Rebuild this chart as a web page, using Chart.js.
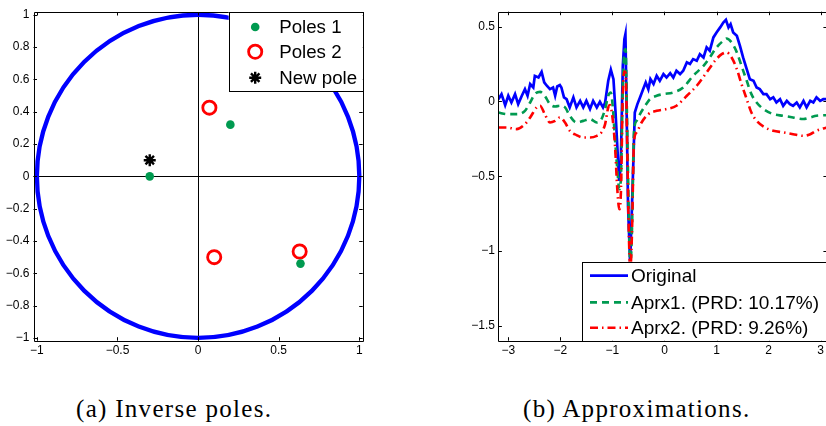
<!DOCTYPE html>
<html>
<head>
<meta charset="utf-8">
<script src="https://cdn.jsdelivr.net/npm/chart.js@4.4.1/dist/chart.umd.min.js"></script>
<style>
  html, body { margin: 0; padding: 0; background: #fff; overflow: hidden; width: 826px; height: 426px; }
  .panel { position: absolute; top: 0; }
  #panelA { left: 0; }
  #panelB { left: 440px; }
  .caption { position: absolute; top: 395px; line-height: 28px; font-family: "Liberation Serif", "Times New Roman", serif; font-size: 25px; letter-spacing: 1.3px; color: #000; white-space: nowrap; }
</style>
</head>
<body>
<div class="panel" id="panelA"><canvas id="poles" width="400" height="362"></canvas></div>
<div class="panel" id="panelB"><canvas id="approx" width="420" height="362"></canvas></div>
<div class="caption" style="left:76px">(a) Inverse poles.</div>
<div class="caption" style="left:523px">(b) Approximations.</div>
<script>
// ---- (a) pole locations in the complex plane ----
const POLES1_RE = [-0.3, 0.2, 0.635];
const POLES1_IM = [0.0, 0.32, -0.54];
const POLES2_RE = [0.07, 0.1, 0.63];
const POLES2_IM = [0.425, -0.5, -0.465];
const NEWPOLE_RE = [-0.3];
const NEWPOLE_IM = [0.1];
const UNIT_RADIUS = 1;
const POLE_XTICKS = [-1, -0.5, 0, 0.5, 1];
const POLE_YTICKS = [-1, -0.8, -0.6, -0.4, -0.2, 0, 0.2, 0.4, 0.6, 0.8, 1];

// ---- (b) signal and its two approximations ----
const W_ORIG = [-3.19,-3.13,-3.06,-3.00,-2.94,-2.87,-2.81,-2.74,-2.68,-2.63,-2.58,-2.52,-2.49,-2.42,-2.36,-2.31,-2.26,-2.20,-2.14,-2.10,
  -2.06,-2.01,-1.98,-1.93,-1.88,-1.82,-1.75,-1.69,-1.62,-1.56,-1.50,-1.43,-1.37,-1.30,-1.24,-1.18,-1.14,-1.08,-1.03,-0.98,
  -0.94,-0.90,-0.87,-0.84,-0.80,-0.77,-0.75,-0.73,-0.70,-0.66,-0.63,-0.60,-0.57,-0.52,-0.47,-0.41,-0.36,-0.31,-0.27,-0.21,
  -0.15,-0.09,-0.02,0.04,0.11,0.17,0.23,0.30,0.36,0.43,0.49,0.55,0.62,0.68,0.75,0.81,0.87,0.94,1.00,1.07,
  1.13,1.18,1.23,1.27,1.32,1.39,1.45,1.51,1.58,1.64,1.71,1.77,1.83,1.90,1.96,2.03,2.09,2.15,2.22,2.28,
  2.35,2.41,2.47,2.54,2.60,2.67,2.73,2.80,2.86,2.92,2.99,3.05,3.12];
const ORIGINAL = [0.015,0.049,-0.025,0.038,-0.007,0.049,-0.018,0.038,0.082,0.038,0.116,0.093,0.171,0.160,0.198,0.127,0.105,0.082,0.093,0.038,
  0.100,0.109,0.093,0.027,0.015,-0.040,0.027,-0.040,0.004,-0.040,0.004,-0.051,0.004,-0.040,-0.002,-0.040,-0.007,0.138,0.212,0.149,
  -0.074,-0.341,-0.531,-0.430,0.238,0.417,0.45,0.015,-0.698,-1.08,-0.765,-0.430,-0.074,-0.018,0.027,0.082,0.127,0.082,0.149,0.116,
  0.171,0.138,0.183,0.160,0.189,0.160,0.205,0.183,0.205,0.261,0.250,0.283,0.272,0.316,0.294,0.361,0.339,0.428,0.461,0.495,
  0.528,0.546,0.495,0.517,0.461,0.439,0.372,0.294,0.216,0.149,0.138,0.093,0.082,0.049,0.049,0.015,0.027,-0.007,0.015,-0.029,
  0.004,-0.018,-0.029,-0.007,-0.040,0.004,-0.040,0.004,-0.007,0.027,0.004,0.015,0.015];
const W_APRX1 = [-3.19,-3.03,-2.84,-2.68,-2.58,-2.49,-2.39,-2.30,-2.20,-2.10,-2.01,-1.91,-1.82,-1.69,-1.56,-1.43,-1.30,-1.21,-1.14,-1.08,
  -1.03,-0.995,-0.95,-0.906,-0.867,-0.835,-0.803,-0.771,-0.746,-0.72,-0.688,-0.656,-0.624,-0.586,-0.535,-0.47,-0.37,-0.28,-0.15,-0.02,
  0.17,0.36,0.55,0.75,0.87,1.00,1.13,1.19,1.29,1.39,1.48,1.58,1.67,1.77,1.90,2.09,2.28,2.47,2.67,2.80,2.92,3.12];
const APRX1 = [-0.074,-0.085,-0.085,-0.063,-0.007,0.049,0.064,0.038,-0.018,-0.034,-0.029,-0.040,-0.096,-0.141,-0.130,-0.118,-0.141,-0.118,-0.051,0.038,
  0.060,-0.029,-0.252,-0.453,-0.587,-0.498,0.060,0.328,0.350,-0.096,-0.698,-1.10,-0.854,-0.208,-0.130,-0.085,-0.029,0.015,0.038,0.049,
  0.060,0.093,0.171,0.238,0.294,0.361,0.406,0.421,0.394,0.328,0.238,0.138,0.049,-0.007,-0.051,-0.085,-0.096,-0.107,-0.118,-0.107,-0.096,-0.092];
const W_APRX2 = [-3.19,-3.03,-2.84,-2.68,-2.58,-2.455,-2.39,-2.30,-2.20,-2.10,-2.01,-1.91,-1.82,-1.69,-1.56,-1.43,-1.30,-1.21,-1.14,-1.08,
  -1.047,-0.995,-0.95,-0.906,-0.867,-0.835,-0.803,-0.771,-0.746,-0.72,-0.688,-0.656,-0.624,-0.586,-0.535,-0.44,-0.31,-0.15,0.04,0.23,
  0.43,0.62,0.81,0.97,1.10,1.19,1.29,1.39,1.48,1.58,1.67,1.77,1.93,2.09,2.28,2.47,2.67,2.80,2.92,3.12];
const APRX2 = [-0.174,-0.174,-0.185,-0.152,-0.107,-0.040,-0.029,-0.085,-0.141,-0.130,-0.107,-0.141,-0.196,-0.225,-0.241,-0.241,-0.230,-0.207,-0.152,-0.040,
  -0.025,-0.118,-0.297,-0.587,-0.721,-0.587,0.015,0.200,0.190,-0.207,-0.832,-1.12,-0.877,-0.274,-0.207,-0.141,-0.085,-0.063,-0.051,-0.029,
  0.038,0.105,0.194,0.272,0.316,0.328,0.294,0.216,0.116,0.015,-0.074,-0.130,-0.174,-0.196,-0.207,-0.219,-0.230,-0.219,-0.196,-0.174];
const APPROX_XTICKS = [-3, -2, -1, 0, 1, 2, 3];
const APPROX_YTICKS = [-1.5, -1, -0.5, 0, 0.5];
const APPROX_LABELS = ['Original', 'Aprx1. (PRD: 10.17%)', 'Aprx2. (PRD: 9.26%)'];

const BLUE = '#0000ff', GREEN = '#009a50', RED = '#ff0000', BLACK = '#000000';
const TICK_FONT = { family: '"Liberation Sans", Arial, sans-serif', size: 12 };

const zip = (xs, ys) => xs.map((x, i) => ({ x, y: ys[i] }));
const fmt = v => (v < 0 ? '\u2212' + String(-v) : String(v));

// box around the axes with inward ticks on every side
const boxFrame = {
  id: 'boxFrame',
  afterDatasetsDraw(chart, args, opts) {
    const { ctx, chartArea: a, scales } = chart;
    const L = opts.tickLen || 3.5;
    const r = v => Math.round(v) + 0.5;
    ctx.save();
    ctx.strokeStyle = BLACK;
    ctx.lineWidth = 1;
    ctx.beginPath();
    ctx.rect(r(a.left), r(a.top), r(a.right) - r(a.left), r(a.bottom) - r(a.top));
    scales.x.ticks.forEach(t => {
      const px = r(scales.x.getPixelForValue(t.value));
      ctx.moveTo(px, a.bottom); ctx.lineTo(px, a.bottom - L);
      ctx.moveTo(px, a.top); ctx.lineTo(px, a.top + L);
    });
    scales.y.ticks.forEach(t => {
      const py = r(scales.y.getPixelForValue(t.value));
      ctx.moveTo(a.left, py); ctx.lineTo(a.left + L, py);
      ctx.moveTo(a.right, py); ctx.lineTo(a.right - L, py);
    });
    ctx.stroke();
    ctx.restore();
  }
};

// zero axes and the unit circle behind the pole markers
const unitCircle = {
  id: 'unitCircle',
  beforeDatasetsDraw(chart) {
    const { ctx, chartArea: a, scales: { x, y } } = chart;
    const cx = x.getPixelForValue(0), cy = y.getPixelForValue(0);
    ctx.save();
    ctx.strokeStyle = BLACK;
    ctx.lineWidth = 1;
    ctx.beginPath();
    ctx.moveTo(Math.round(cx) + 0.5, a.top); ctx.lineTo(Math.round(cx) + 0.5, a.bottom);
    ctx.moveTo(a.left, Math.round(cy) + 0.5); ctx.lineTo(a.right, Math.round(cy) + 0.5);
    ctx.stroke();
    const rx = x.getPixelForValue(UNIT_RADIUS) - cx;
    const ry = cy - y.getPixelForValue(UNIT_RADIUS);
    ctx.strokeStyle = BLUE;
    ctx.lineWidth = 4.3;
    ctx.beginPath();
    ctx.ellipse(cx, cy, rx, ry, 0, 0, Math.PI * 2);
    ctx.stroke();
    ctx.restore();
  }
};

function drawMarker(ctx, ds, x, y) {
  ctx.save();
  if (ds.pointStyle === 'star') {
    ctx.strokeStyle = ds.borderColor;
    ctx.lineWidth = ds.borderWidth;
    const r = ds.pointRadius;
    ctx.beginPath();
    for (let k = 0; k < 4; k++) {
      const ang = k * Math.PI / 4;
      ctx.moveTo(x - r * Math.cos(ang), y - r * Math.sin(ang));
      ctx.lineTo(x + r * Math.cos(ang), y + r * Math.sin(ang));
    }
    ctx.stroke();
  } else {
    ctx.beginPath();
    ctx.arc(x, y, ds.pointRadius, 0, Math.PI * 2);
    ctx.fillStyle = ds.backgroundColor;
    ctx.fill();
    if (ds.borderWidth) { ctx.strokeStyle = ds.borderColor; ctx.lineWidth = ds.borderWidth; ctx.stroke(); }
  }
  ctx.restore();
}

// framed legend drawn inside the plot area
const boxLegend = {
  id: 'boxLegend',
  afterDraw(chart, args, o) {
    const { ctx, chartArea: a } = chart;
    const w = o.width, h = o.height;
    const left = o.anchor === 'topRight' ? a.right - w : a.left + o.offsetX;
    const top = o.anchor === 'topRight' ? a.top : a.bottom - h;
    ctx.save();
    ctx.fillStyle = '#fff';
    ctx.fillRect(left, top, w, h);
    ctx.strokeStyle = BLACK;
    ctx.lineWidth = 1;
    ctx.strokeRect(Math.round(left) + 0.5, Math.round(top) + 0.5, Math.round(w), Math.round(h));
    ctx.font = o.fontSize + 'px "Liberation Sans", Arial, sans-serif';
    ctx.fillStyle = BLACK;
    ctx.textBaseline = 'middle';
    chart.data.datasets.forEach((ds, i) => {
      const yy = top + o.rows[i];
      if (o.kind === 'marker') {
        drawMarker(ctx, ds, left + o.markX, yy);
      } else {
        ctx.save();
        ctx.strokeStyle = ds.borderColor;
        ctx.lineWidth = ds.borderWidth;
        ctx.setLineDash(ds.borderDash || []);
        ctx.beginPath();
        ctx.moveTo(left + o.lineX0, yy); ctx.lineTo(left + o.lineX1, yy);
        ctx.stroke();
        ctx.restore();
      }
      ctx.fillStyle = BLACK;
      ctx.fillText(ds.label, left + o.textX, yy + 1);
    });
    ctx.restore();
  }
};

function fixedTicks(list) {
  return scale => { scale.ticks = list.map(v => ({ value: v })); };
}

new Chart(document.getElementById('poles'), {
  type: 'scatter',
  data: {
    datasets: [
      { label: 'Poles 1', data: zip(POLES1_RE, POLES1_IM), pointStyle: 'circle', pointRadius: 4.3,
        backgroundColor: GREEN, borderColor: GREEN, borderWidth: 0 },
      { label: 'Poles 2', data: zip(POLES2_RE, POLES2_IM), pointStyle: 'circle', pointRadius: 6.6,
        backgroundColor: 'rgba(0,0,0,0)', borderColor: RED, borderWidth: 2.8 },
      { label: 'New pole', data: zip(NEWPOLE_RE, NEWPOLE_IM), pointStyle: 'star', pointRadius: 6,
        backgroundColor: BLACK, borderColor: BLACK, borderWidth: 2.4 }
    ]
  },
  options: {
    responsive: false, animation: false, devicePixelRatio: 1,
    layout: { padding: { left: 0, top: 12, right: 37.3, bottom: 0 } },
    plugins: {
      legend: { display: false }, tooltip: { enabled: false },
      boxFrame: { tickLen: 3.5 },
      boxLegend: { anchor: 'topRight', kind: 'marker', width: 134, height: 79, markX: 26.5, textX: 50.5,
        rows: [15, 39.7, 65.7], fontSize: 18.7 }
    },
    scales: {
      x: { type: 'linear', min: -1.021, max: 1.021,
        afterBuildTicks: fixedTicks(POLE_XTICKS), afterFit: s => { s.height = 21.3; },
        grid: { display: false, drawTicks: false }, border: { display: false },
        ticks: { font: TICK_FONT, color: BLACK, padding: 3, maxRotation: 0, callback: v => fmt(v) } },
      y: { type: 'linear', min: -1.017, max: 1.017,
        afterBuildTicks: fixedTicks(POLE_YTICKS), afterFit: s => { s.width = 33.5; },
        grid: { display: false, drawTicks: false }, border: { display: false },
        ticks: { font: TICK_FONT, color: BLACK, padding: 4, callback: v => fmt(Math.round(v * 10) / 10) } }
    }
  },
  plugins: [unitCircle, boxFrame, boxLegend]
});

new Chart(document.getElementById('approx'), {
  type: 'line',
  data: {
    datasets: [
      { label: APPROX_LABELS[0], data: zip(W_ORIG, ORIGINAL), borderColor: BLUE, borderWidth: 2.7,
        pointRadius: 0, tension: 0, order: 3 },
      { label: APPROX_LABELS[1], data: zip(W_APRX1, APRX1), borderColor: GREEN, borderWidth: 2.6,
        borderDash: [7, 5], pointRadius: 0, cubicInterpolationMode: 'monotone', order: 2 },
      { label: APPROX_LABELS[2], data: zip(W_APRX2, APRX2), borderColor: RED, borderWidth: 2.6,
        borderDash: [8, 4, 1.5, 4], pointRadius: 0, cubicInterpolationMode: 'monotone', order: 1 }
    ]
  },
  options: {
    responsive: false, animation: false, devicePixelRatio: 1,
    layout: { padding: { left: 0, top: 11.7, right: 33.1, bottom: 0 } },
    plugins: {
      legend: { display: false }, tooltip: { enabled: false },
      boxFrame: { tickLen: 3.5 },
      boxLegend: { anchor: 'bottomLeft', kind: 'line', offsetX: 83.6, width: 260, height: 79,
        lineX0: 8, lineX1: 46, textX: 49, rows: [14, 40.7, 66], fontSize: 19 }
    },
    scales: {
      x: { type: 'linear', min: -3.19, max: 3.12,
        afterBuildTicks: fixedTicks(APPROX_XTICKS), afterFit: s => { s.height = 21.3; },
        grid: { display: false, drawTicks: false }, border: { display: false },
        ticks: { font: TICK_FONT, color: BLACK, padding: 3, maxRotation: 0, callback: v => fmt(v) } },
      y: { type: 'linear', min: -1.6, max: 0.6,
        afterBuildTicks: fixedTicks(APPROX_YTICKS), afterFit: s => { s.width = 58.4; },
        grid: { display: false, drawTicks: false }, border: { display: false },
        ticks: { font: TICK_FONT, color: BLACK, padding: 3.5, callback: v => fmt(v) } }
    }
  },
  plugins: [boxFrame, boxLegend]
});
</script>
</body>
</html>
